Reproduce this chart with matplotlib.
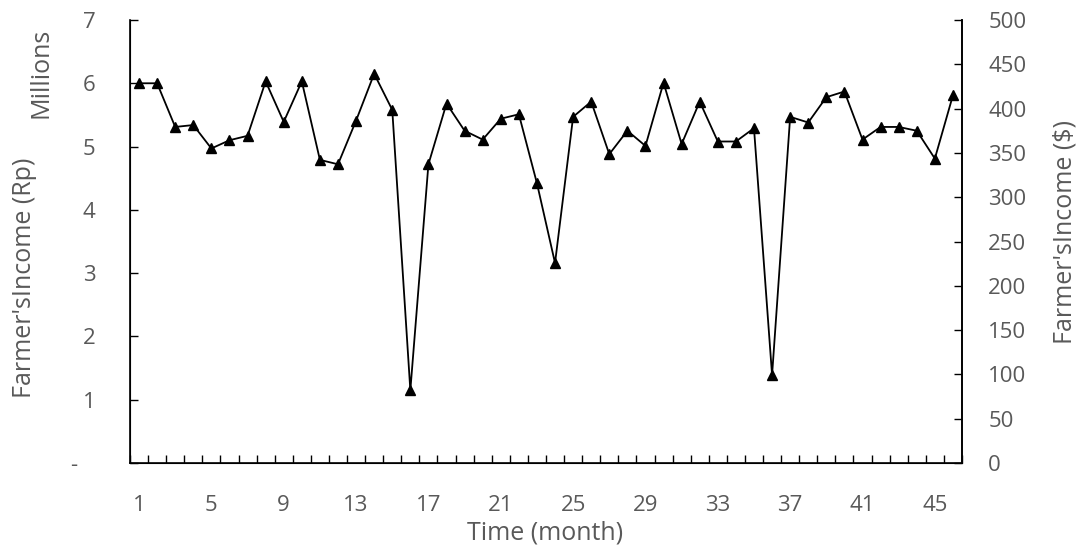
import matplotlib.pyplot as plt
import numpy as np

# monthly farmer's income, millions of Rp
months = list(range(1, 47))
income_rp = [6.00, 6.00, 5.31, 5.34, 4.97, 5.10, 5.17, 6.03, 5.39, 6.03,
             4.79, 4.72, 5.41, 6.15, 5.58, 1.15, 4.72, 5.68, 5.25, 5.11,
             5.44, 5.51, 4.42, 3.16, 5.47, 5.71, 4.88, 5.25, 5.01, 6.01,
             5.04, 5.71, 5.08, 5.08, 5.29, 1.39, 5.47, 5.38, 5.78, 5.87,
             5.11, 5.31, 5.31, 5.25, 4.81, 5.81]
left_ticks = [0, 1, 2, 3, 4, 5, 6, 7]
left_labels = ['-   ', '1', '2', '3', '4', '5', '6', '7']
right_ticks = list(range(0, 501, 50))
x_labels = list(range(1, 47, 4))

plt.rcParams['font.family'] = ['Open Sans', 'DejaVu Sans']
grey = '#595959'
tick_fs = 16
title_fs = 18

fig = plt.figure(figsize=(10.86, 5.49), dpi=100)
ax = fig.add_axes([0.1197, 0.1566, 0.7661, 0.807])
ax.plot(months, income_rp, color='black', lw=1.3, marker='^', ms=7.8,
        markerfacecolor='black', markeredgecolor='black')

ax.set_xlim(0.5, 46.5)
ax.set_ylim(0, 7)
ax.set_yticks(left_ticks)
ax.set_yticklabels(left_labels)
ax.set_xticks(np.arange(0.5, 47, 1))
ax.set_xticklabels([])
ax.set_xticks(x_labels, minor=True)
ax.set_xticklabels([str(v) for v in x_labels], minor=True)
ax.tick_params(axis='x', which='major', direction='in', length=6, width=1)
ax.tick_params(axis='x', which='minor', length=0, pad=23, labelsize=tick_fs, labelcolor=grey)
ax.tick_params(axis='y', direction='in', length=6, width=1, pad=25,
               labelsize=tick_fs, labelcolor=grey)
for s in ax.spines.values():
    s.set_linewidth(1.2)
ax.spines['top'].set_visible(False)

ax2 = ax.twinx()
ax2.set_ylim(0, 500)
ax2.set_yticks(right_ticks)
ax2.tick_params(axis='y', direction='in', length=6, width=1, pad=19,
                labelsize=tick_fs, labelcolor=grey)
ax2.spines['top'].set_visible(False)
ax2.spines['right'].set_linewidth(1.2)

fig.text(0.5018, 0.03, 'Time (month)', ha='center', va='center', fontsize=title_fs, color=grey)
fig.text(0.023, 0.494, "Farmer'sIncome (Rp)", rotation=90, ha='center', va='center',
         fontsize=title_fs, color=grey)
fig.text(0.038, 0.867, 'Millions', rotation=90, ha='center', va='center',
         fontsize=title_fs, color=grey)
fig.text(0.981, 0.578, "Farmer'sIncome ($)", rotation=90, ha='center', va='center',
         fontsize=title_fs, color=grey)

plt.savefig('out.png', dpi=100)
